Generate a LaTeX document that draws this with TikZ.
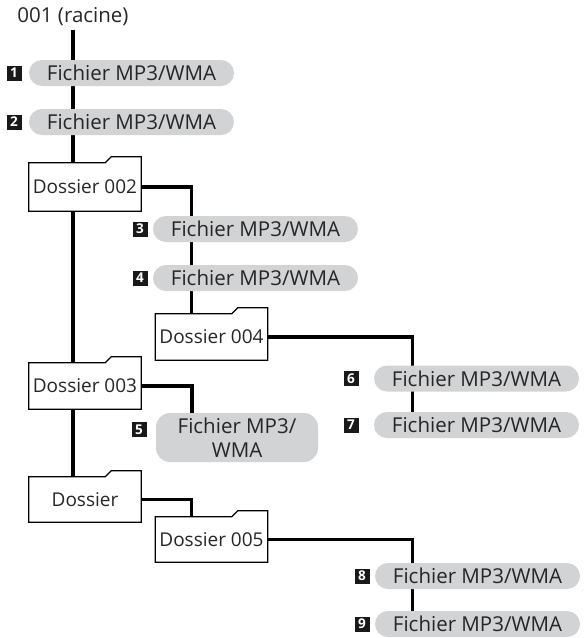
\documentclass[tikz,border=0pt]{standalone}
\usepackage{fontspec}
\setmainfont{Open Sans}
\usetikzlibrary{positioning}
\definecolor{pillgray}{RGB}{209,211,212}
\pgfdeclarelayer{background}
\pgfsetlayers{background,main}
\tikzset{
 txt/.style={font=\fontsize{20.5}{24}\selectfont,text=black!85},
 fichier/.style={txt,rectangle,rounded corners=13pt,fill=pillgray,minimum width=205pt,minimum height=26pt,inner sep=0pt},
 dossier/.style={font=\fontsize{19}{23}\selectfont,text=black!85,minimum width=112pt,minimum height=46pt,inner sep=0pt},
 numbox/.style={fill=black!90,text=white,minimum size=15pt,inner sep=0pt,font=\fontsize{13.5}{13.5}\selectfont\bfseries},
 link/.style={line width=3.5pt},
}
\begin{document}
\begin{tikzpicture}[x=1pt,y=-1pt]
\useasboundingbox(0,0)rectangle(586,638);
\node[txt](racine)at(73,17){001 (racine)};
\node[fichier](f1)at(131.5,73){Fichier MP3/WMA};
\node[fichier](f2)at(131.5,122){Fichier MP3/WMA};
\node[dossier,minimum height=48pt](d2)at(85,187){Dossier 002};
\node[fichier](f3)at(255.5,229){Fichier MP3/WMA};
\node[fichier](f4)at(255.5,278){Fichier MP3/WMA};
\node[dossier](d4)at(211.5,337){Dossier 004};
\node[dossier](d3)at(85,386){Dossier 003};
\node[fichier,minimum width=162pt,minimum height=49pt,rounded corners=14pt,align=center](f5)at(237,437.5){Fichier MP3/\\WMA};
\node[dossier,minimum height=45pt](dx)at(85,499.5){Dossier};
\node[dossier,minimum height=45pt](d5)at(211.5,539.5){Dossier 005};
\node[fichier](f6)at(476.5,378.5){Fichier MP3/WMA};
\node[fichier](f7)at(476.5,425){Fichier MP3/WMA};
\node[fichier](f8)at(477.5,576){Fichier MP3/WMA};
\node[fichier](f9)at(477.5,624){Fichier MP3/WMA};
% numeros
\node[numbox,left=7pt of f1](n1){1};
\node[numbox,left=7pt of f2](n2){2};
\node[numbox,left=5pt of f3](n3){3};
\node[numbox,left=5pt of f4](n4){4};
\node[numbox,left=9pt of f5,yshift=8pt](n5){5};
\node[numbox,left=15pt of f6](n6){6};
\node[numbox,left=15pt of f7](n7){7};
\node[numbox,left=5pt of f8](n8){8};
\node[numbox,left=5pt of f9](n9){9};
% dossiers
\foreach \d in {d2,d3,d4,dx,d5}
\draw[line width=1.3pt](\d.south west)--(\d.north west)--([xshift=-36pt]\d.north east)
--([xshift=-30pt,yshift=6pt]\d.north east)--([yshift=6pt]\d.north east)--(\d.south east)--cycle;
\begin{pgfonlayer}{background}
\draw[link](racine.south)--(racine.south|-d2.north);
\draw[link](d2.south-|racine)--(d3.north-|racine);
\draw[link](d3.south-|racine)--(dx.north-|racine);
\draw[link](d2.east)-|([xshift=-20pt]d4.north);
\draw[link](d3.east)-|([xshift=-45pt]f5.north);
\draw[link](dx.east)-|([xshift=-20pt]d5.north);
\draw[link](d4.east)-|([xshift=-64pt]f7.north);
\draw[link](d5.east)-|([xshift=-65pt]f9.north);
\end{pgfonlayer}
\end{tikzpicture}
\end{document}
